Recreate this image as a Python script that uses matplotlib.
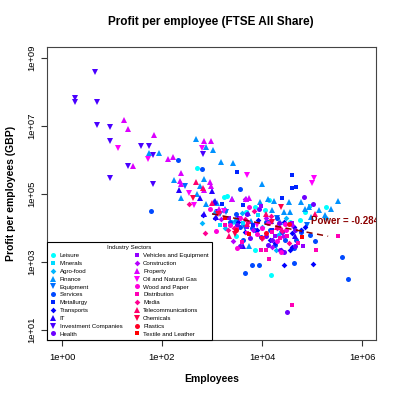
import colorsys
import numpy as np
import matplotlib
matplotlib.use("Agg")
import matplotlib.pyplot as plt
from matplotlib.lines import Line2D

plt.rcParams['font.family'] = ['Liberation Sans', 'DejaVu Sans']

# values (employees, profit per employee in GBP)
leisure_emp = [490, 1700, 2000, 2500, 3000, 7200, 7400, 11500, 14000, 15000, 36000, 72000, 190000,
               4800, 58000]
leisure_profit = [5.8e5, 8.3e4, 8.9e4, 1.5e4, 5.9e3, 4.1e4, 2.2e3, 3.4e4, 6.7e4, 410, 1.5e4, 3.0e4, 4.0e4,
                  2.9e4, 1.7e4]

minerals_emp = [1450, 4200, 8500, 24000, 90000]
minerals_profit = [1.2e4, 1.4e4, 2.4e4, 7.0e3, 4.5e4]

agro_emp = [620, 1800, 4000, 10000, 19000, 30000, 60000, 190000, 2900, 21000]
agro_profit = [1.4e4, 1.0e4, 2.8e4, 1.1e4, 2.2e3, 2.0e4, 9.0e3, 2.0e4, 1.5e4, 6.2e3]

finance_emp = [55, 87, 174, 236, 470, 490, 575, 690, 760, 760,
               1030, 1250, 1150, 1500, 2600, 2500, 4800, 5500, 9100, 10000,
               13000, 17000, 23000, 35000, 59000, 72000, 89000, 97000, 140000, 180000,
               240000, 330000, 3000, 6000, 1800, 28000, 1800, 5200, 16000, 36000]
finance_profit = [1.6e6, 1.6e6, 2.6e5, 7.8e4, 4.2e6, 1.0e5, 1.7e5, 2.7e5, 2.4e6, 5.0e4,
                  1.9e6, 5.5e4, 2.9e4, 8.9e5, 7.9e5, 6.9e4, 6.9e4, 3.0e3, 5.8e4, 2.0e5,
                  7.0e4, 6.0e4, 1.5e4, 5.9e4, 5.9e4, 3.6e4, 4.2e4, 2.1e4, 3.4e4, 2.4e4,
                  3.6e4, 6.2e4, 1.8e4, 1.6e4, 3.5e4, 3.0e4, 3.4e4, 2.7e4, 3.4e4, 3.0e4]

equipment_emp = [290, 1450, 1900, 4500, 20000, 80000]
equipment_profit = [1.7e5, 2.6e4, 3.0e4, 1.0e4, 2.0e4, 1.2e4]

services_emp = [61, 210, 640, 2300, 3700, 4200, 4500, 6200, 6200, 8900,
                9500, 14500, 20000, 29000, 43000, 44000, 115000, 400000, 530000, 3000,
                12000, 60000, 7200, 13000, 25000, 47000, 3600, 18000, 91000]
services_profit = [3.1e4, 1.0e6, 5.5e5, 1.5e4, 1.4e5, 4.4e3, 470, 820, 1.0e4, 820,
                   5.5e3, 8.7e3, 2.0e4, 4.4e3, 2.6e3, 950, 4.2e3, 1.4e3, 320, 2.5e4,
                   1.5e4, 7.5e3, 8.7e3, 1.5e4, 7.6e3, 4.4e3, 1.1e4, 3.2e3, 6.2e3]

metallurgy_emp = [1600, 3100, 4200, 6500, 25000, 39000, 40000, 48000, 16000]
metallurgy_profit = [5.0e4, 4.5e5, 4.6e4, 1.2e4, 7.8e4, 3.5e5, 1.5e5, 1.6e5, 9.0e3]

transports_emp = [650, 1150, 3300, 8000, 18000, 24000, 28000, 28000, 36000, 39000, 44000, 107000, 60000,
                  4600, 14500, 40000, 72000, 8300]
transports_profit = [2.4e4, 1.9e4, 1.5e4, 9.0e3, 3.5e3, 2.3e3, 800, 1.5e4, 2.3e3, 2.8e3, 1.1e4, 870, 9.0e3,
                     7.6e3, 4.4e3, 7.0e3, 1.1e4, 1.7e4]

it_emp = [220, 575, 700, 1000, 1100, 1150, 1200, 4200, 15000, 45000]
it_profit = [1.3e5, 7.7e4, 2.5e4, 1.2e5, 5.8e4, 6.2e4, 2.1e4, 3.0e3, 1.6e4, 6.0e3]

invest_emp = [1.8, 1.8, 4.6, 5.1, 5.1, 9.3, 9.3, 9.3, 21, 38, 55, 65, 67, 670, 1300, 3500]
invest_profit = [6.5e7, 4.9e7, 3.8e8, 5.1e7, 1.07e7, 9.6e6, 3.5e6, 3.0e5, 6.6e5, 2.6e6,
                 2.6e6, 1.4e6, 1.9e5, 1.5e6, 3.0e4, 1.8e4]

health_emp = [3200, 5000, 8900, 12000, 16000, 22000, 28000, 32000, 45000, 69000, 107000, 3600,
              5800, 13000, 23000, 46000]
health_profit = [1.2e4, 2.5e4, 3.5e4, 6.0e3, 4.4e3, 1.4e4, 1.9e3, 33, 9.0e3, 8.3e4, 5.1e4, 3.0e3,
                 5.0e3, 3.2e3, 2.3e3, 2.9e3]

vehicles_emp = [2200, 9500, 18000, 39000, 65000, 5000]
vehicles_profit = [2.0e4, 4.4e4, 6.0e3, 1.4e4, 3.0e3, 1.1e4]

construction_emp = [1500, 4600, 6500, 12000, 16000, 26000, 40000, 2600, 20000]
construction_profit = [1.8e4, 7.0e4, 9.0e3, 2.0e4, 2.8e3, 6.0e3, 1.2e4, 4.0e3, 1.0e4]

property_emp = [17, 21, 26, 69, 134, 163, 230, 240, 245, 690, 910, 950, 970, 2500, 4800, 5500, 690, 1400]
property_profit = [1.5e7, 8.1e6, 6.6e5, 5.5e6, 1.07e6, 1.2e6, 2.4e5, 4.1e5, 2.0e5, 3.5e6,
                   2.3e5, 1.7e5, 3.7e6, 6.9e4, 6.9e4, 7.7e4, 1.3e5, 3.5e4]

oil_emp = [13, 53, 340, 440, 620, 4900, 100000, 110000, 1700, 8000]
oil_profit = [2.2e6, 1.07e6, 1.1e5, 4.7e4, 2.3e6, 3.5e5, 2.1e5, 2.9e5, 3.2e4, 1.2e4]

wood_emp = [1200, 2300, 3200, 5600, 8000, 13000, 20000, 30000, 24000, 900, 3600, 10000, 29000]
wood_profit = [8.0e3, 1.2e4, 2.6e3, 4.1e4, 6.5e3, 1.4e4, 4.0e3, 9.0e3, 2.0e3, 3.5e4, 1.9e4, 1.0e4, 1.3e4]

distribution_emp = [1800, 3900, 5000, 9500, 12000, 14000, 23000, 39000, 53000, 120000, 330000,
                    3200, 16000, 32000]
distribution_profit = [1.2e4, 3.8e3, 7.0e3, 2.3e3, 2.3e3, 1.2e3, 5.2e3, 55, 3.7e3, 2.3e3, 5.9e3,
                       9.6e3, 7.6e3, 5.7e3]

media_emp = [350, 710, 1400, 2800, 4500, 7000, 10000, 15000, 25000, 35000, 2100, 5300, 10000, 23000]
media_profit = [5.1e4, 7.1e3, 3.0e4, 1.0e4, 1.8e4, 3.2e4, 5.0e3, 2.2e4, 8.0e3, 3.5e3, 8.7e3, 1.5e4, 5.0e3, 1.0e4]

telecom_emp = [470, 650, 1000, 2200, 5000, 12000, 20000, 115000]
telecom_profit = [2.2e5, 1.5e5, 5.5e4, 5.8e3, 1.3e4, 2.5e4, 1.1e4, 2.5e4]

chemicals_emp = [420, 1300, 2900, 9900, 16000, 24000]
chemicals_profit = [7.6e4, 2.5e4, 6.5e3, 4.8e3, 1.5e4, 4.1e4]

plastics_emp = [3000, 12000, 35000]
plastics_profit = [9.0e3, 7.0e3, 1.3e4]

textile_emp = [1800, 5600, 63000]
textile_profit = [2.0e4, 6.8e3, 5.5e3]

sector_names = ["Leisure", "Minerals", "Agro-food", "Finance", "Equipment",
                "Services", "Metallurgy", "Transports", "IT", "Investment Companies",
                "Health", "Vehicles and Equipment", "Construction", "Property",
                "Oil and Natural Gas", "Wood and Paper", "Distribution", "Media",
                "Telecommunications", "Chemicals", "Plastics", "Textile and Leather"]

sector_data = [(leisure_emp, leisure_profit), (minerals_emp, minerals_profit),
               (agro_emp, agro_profit), (finance_emp, finance_profit),
               (equipment_emp, equipment_profit), (services_emp, services_profit),
               (metallurgy_emp, metallurgy_profit), (transports_emp, transports_profit),
               (it_emp, it_profit), (invest_emp, invest_profit),
               (health_emp, health_profit), (vehicles_emp, vehicles_profit),
               (construction_emp, construction_profit), (property_emp, property_profit),
               (oil_emp, oil_profit), (wood_emp, wood_profit),
               (distribution_emp, distribution_profit), (media_emp, media_profit),
               (telecom_emp, telecom_profit), (chemicals_emp, chemicals_profit),
               (plastics_emp, plastics_profit), (textile_emp, textile_profit)]

power_exp = -0.284
fit_range = [1000, 210000]
fit_at_1000 = 2.6e4

# R rainbow(22, start=0.5, end=1) and pch cycle 16,15,18,17,25
n = len(sector_names)
colors = [colorsys.hsv_to_rgb((0.5 + i * 0.5 / (n - 1)) % 1.0, 1, 1) for i in range(n)]
markers = ['o', 's', 'D', '^', 'v']
msizes = {'o': 3.6, 's': 3.3, 'D': 2.9, '^': 4.0, 'v': 4.0}

fig = plt.figure(figsize=(4, 4), dpi=100)
ax = fig.add_axes([0.1175, 0.15, 0.8225, 0.7325])

for i, (emp, prof) in enumerate(sector_data):
    m = markers[i % 5]
    ax.plot(emp, prof, linestyle='none', marker=m, ms=msizes[m],
            color=colors[i], mec=colors[i], mew=0)

fx = np.array(fit_range, dtype=float)
fy = fit_at_1000 * (fx / 1000.0) ** power_exp
ax.plot(fx, fy, color='#8B0000', lw=1.1, dashes=(4, 3))
ax.text(9.5e4, 1.6e4, "Power = " + str(power_exp), color='#8B0000', fontsize=7,
        fontweight='bold', va='center', ha='left', clip_on=True)

ax.set_xscale('log')
ax.set_yscale('log')
ax.set_xlim(10 ** -0.3, 10 ** 6.28)
ax.set_ylim(10 ** 0.706, 10 ** 9.32)
ax.set_xticks([1, 1e2, 1e4, 1e6])
ax.set_xticklabels(["1e+00", "1e+02", "1e+04", "1e+06"])
ax.set_yticks([1e1, 1e3, 1e5, 1e7, 1e9])
ax.set_yticklabels(["1e+01", "1e+03", "1e+05", "1e+07", "1e+09"], rotation=90, va='center')
ax.minorticks_off()
ax.tick_params(direction='out', length=4, width=0.8, labelsize=6.8, pad=5, color='#333333')
ax.tick_params(axis='y', pad=4)
for s in ax.spines.values():
    s.set_color('#444444')
    s.set_linewidth(0.8)

ax.set_xlabel("Employees", fontsize=7.5, fontweight='bold', labelpad=9)
ax.set_ylabel("Profit per employees (GBP)", fontsize=7.5, fontweight='bold', labelpad=8)
fig.text(0.5275, 0.945, "Profit per employee (FTSE All Share)", fontsize=8.5,
         fontweight='bold', ha='center', va='center')

handles = [Line2D([], [], linestyle='none', marker=markers[i % 5], ms=msizes[markers[i % 5]],
                  color=colors[i], mew=0) for i in range(n)]
leg = ax.legend(handles, sector_names, loc='lower left', ncol=2, title="Industry Sectors",
                fontsize=4.4, title_fontsize=4.4, frameon=True, fancybox=False,
                borderaxespad=0, handlelength=1.0, handletextpad=0.5, columnspacing=1.9,
                labelspacing=0.42, borderpad=0.55)
leg.get_frame().set_edgecolor('black')
leg.get_frame().set_linewidth(0.8)
leg.get_frame().set_alpha(1)

fig.savefig("out.png", dpi=100)
